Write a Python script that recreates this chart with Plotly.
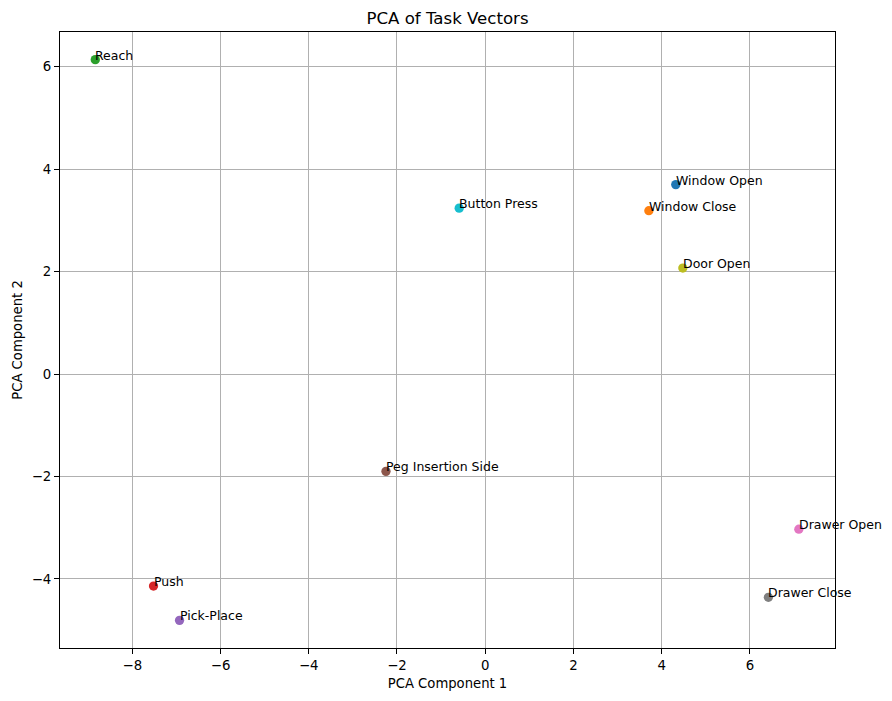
import plotly.graph_objects as go

tasks = ["Window Open", "Window Close", "Reach", "Push", "Pick-Place",
         "Peg Insertion Side", "Drawer Open", "Drawer Close", "Door Open", "Button Press"]
pc1 = [4.32, 3.71, -8.84, -7.52, -6.93, -2.25, 7.11, 6.42, 4.48, -0.59]
pc2 = [3.70, 3.19, 6.14, -4.14, -4.81, -1.90, -3.03, -4.36, 2.07, 3.24]
colors = ["#1f77b4", "#ff7f0e", "#2ca02c", "#d62728", "#9467bd",
          "#8c564b", "#e377c2", "#7f7f7f", "#bcbd22", "#17becf"]

font = "DejaVu Sans"

fig = go.Figure()
for name, x, y, c in zip(tasks, pc1, pc2, colors):
    fig.add_trace(go.Scatter(
        x=[x], y=[y], mode="markers", name=name,
        marker=dict(color=c, size=9.3, line=dict(width=0)),
        showlegend=False,
    ))
    fig.add_annotation(
        x=x, y=y, text=name, showarrow=False,
        xanchor="left", yanchor="bottom", xshift=-2, yshift=-5,
        font=dict(family=font, size=12.5, color="black"),
    )

axis_style = dict(
    showgrid=True, gridcolor="#b0b0b0", gridwidth=1,
    showline=True, linecolor="black", linewidth=1, mirror=True,
    ticks="outside", ticklen=5, tickwidth=1, tickcolor="black",
    zeroline=False, dtick=2, automargin=False,
    tickfont=dict(family=font, size=13.3, color="black"),
    title_font=dict(family=font, size=13.2, color="black"),
)

# page body has an 8px margin, so the figure is a bit smaller than the window
fig.update_layout(
    width=884, height=693,
    margin=dict(l=52, r=57, t=24, b=53),
    plot_bgcolor="white", paper_bgcolor="white",
    title=dict(text="PCA of Task Vectors", x=0.5, xref="paper", y=0.985,
               xanchor="center", yanchor="middle",
               font=dict(family=font, size=16.6, color="black")),
    font=dict(family=font),
)
fig.update_xaxes(range=[-9.64, 7.93], title=dict(text="PCA Component 1", standoff=6), **axis_style)
fig.update_yaxes(range=[-5.35, 6.68], title=dict(text="PCA Component 2", standoff=6), **axis_style)

fig.write_html("out.html")
